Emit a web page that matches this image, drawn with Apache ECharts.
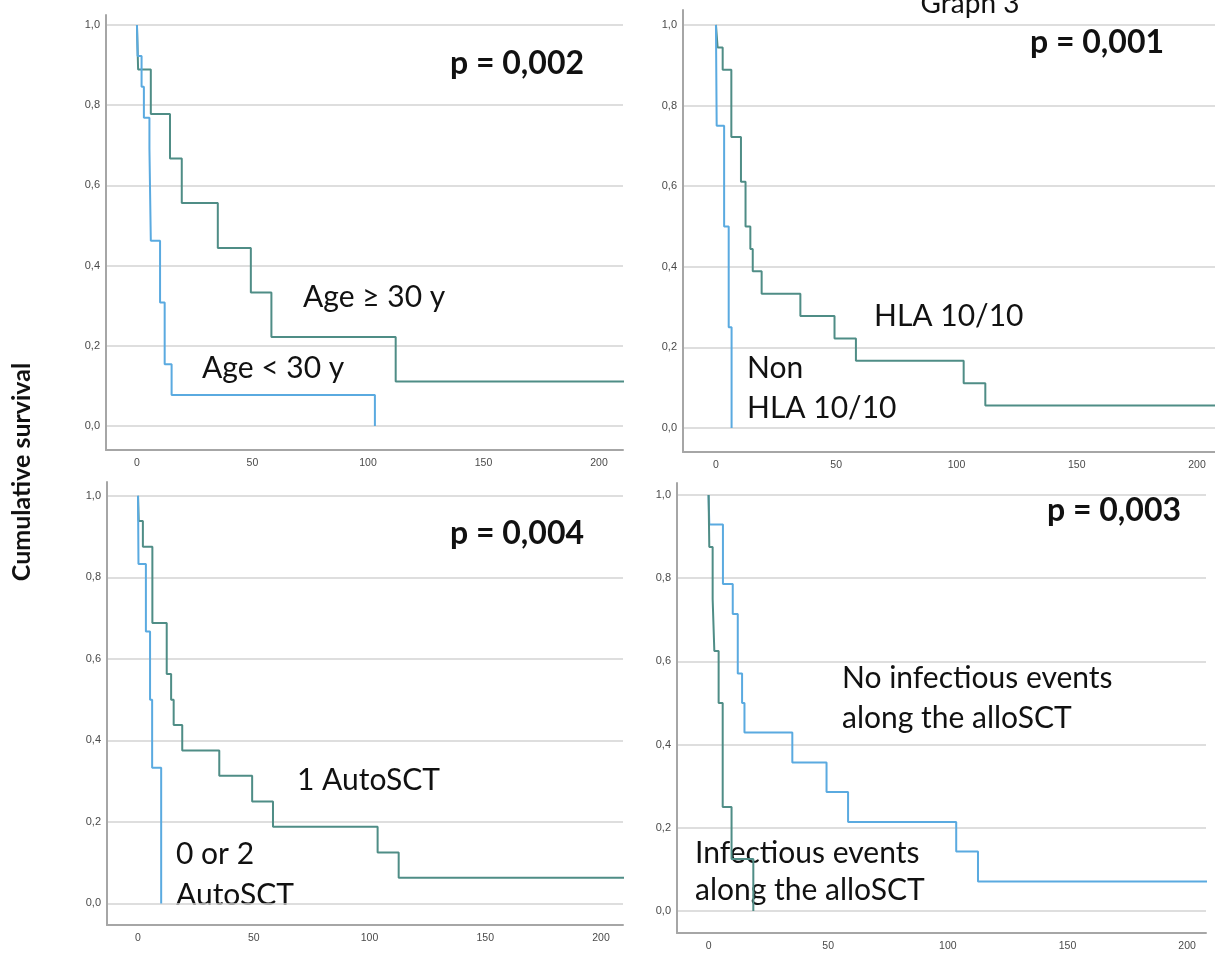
<!DOCTYPE html>
<html><head><meta charset="utf-8">
<script src="https://cdn.jsdelivr.net/npm/echarts@6/dist/echarts.min.js"></script>
<style>html,body{margin:0;padding:0;background:#fff}#c{width:1215px;height:954px}</style>
</head><body><div id="c"></div>
<script>
// tick labels
const yTicks = [0, 0.2, 0.4, 0.6, 0.8, 1.0];
const xTicks = [0, 50, 100, 150, 200];

// Panel 1: age
const ageOldT = [0, 0.5, 6, 14.3, 19.4, 35, 49.3, 58.2, 112, 230];
const ageOldS = [1, 0.889, 0.778, 0.667, 0.556, 0.444, 0.333, 0.222, 0.111, 0.111];
const ageYoungT = [0, 0.3, 2, 3, 5.4, 6, 10, 12, 15, 103];
const ageYoungS = [1, 0.923, 0.846, 0.769, 0.692, 0.462, 0.308, 0.154, 0.077, 0];

// Panel 2: HLA
const hlaT = [0, 0.7, 2.8, 6.4, 10.4, 12.3, 14.3, 15.3, 19, 35.1, 49.3, 58.2, 103, 112, 230];
const hlaS = [1, 0.944, 0.889, 0.722, 0.611, 0.5, 0.444, 0.389, 0.333, 0.278, 0.222, 0.167, 0.111, 0.056, 0.056];
const nonHlaT = [0, 0.3, 3.4, 5.3, 6.5];
const nonHlaS = [1, 0.75, 0.5, 0.25, 0];

// Panel 3: AutoSCT
const oneAutoT = [0, 0.3, 2.1, 6.2, 12.4, 14.3, 15.4, 19.1, 35.1, 49.3, 58.3, 103.5, 112.6, 230];
const oneAutoS = [1, 0.938, 0.875, 0.688, 0.563, 0.5, 0.438, 0.375, 0.313, 0.25, 0.188, 0.125, 0.063, 0.063];
const zeroTwoT = [0, 0.2, 3.4, 5.2, 6.1, 10];
const zeroTwoS = [1, 0.833, 0.667, 0.5, 0.333, 0];

// Panel 4: infections
const noInfT = [0, 0.3, 6, 10.1, 12.2, 14, 15, 35, 49.3, 58.3, 103.5, 112.6, 230];
const noInfS = [1, 0.929, 0.786, 0.714, 0.571, 0.5, 0.429, 0.357, 0.286, 0.214, 0.143, 0.071, 0.071];
const infT = [0, 0.3, 1.7, 2.4, 4.2, 5.9, 9.6, 18.7];
const infS = [1, 0.875, 0.75, 0.625, 0.5, 0.25, 0.125, 0];

const GREEN = '#4f8d86', BLUE = '#5aaae0';
const AXIS = '#a6a6a6', GRIDC = '#d3d3d3';

const panels = [
  {grid: {left: 106, top: 15, width: 517, height: 435}, x: [-13.4, 210.4], y: [-0.06, 1.025],
   lines: [[ageOldT, ageOldS, GREEN], [ageYoungT, ageYoungS, BLUE]]},
  {grid: {left: 683, top: 10, width: 532, height: 442}, x: [-13.7, 207.5], y: [-0.0596, 1.037],
   lines: [[hlaT, hlaS, GREEN], [nonHlaT, nonHlaS, BLUE]]},
  {grid: {left: 107, top: 482, width: 516, height: 443}, x: [-13.4, 209.5], y: [-0.053, 1.034],
   lines: [[oneAutoT, oneAutoS, GREEN], [zeroTwoT, zeroTwoS, BLUE]]},
  {grid: {left: 677, top: 483, width: 529, height: 450}, x: [-13.2, 207.9], y: [-0.053, 1.029],
   lines: [[noInfT, noInfS, BLUE], [infT, infS, GREEN]]}
];

const grids = [], xAxes = [], yAxes = [], series = [];
panels.forEach((p, i) => {
  grids.push(Object.assign({containLabel: false}, p.grid));
  xAxes.push({
    type: 'value', gridIndex: i, min: p.x[0], max: p.x[1],
    axisLine: {show: true, onZero: false, lineStyle: {color: AXIS, width: 2}},
    axisTick: {show: false},
    axisLabel: {customValues: xTicks, color: '#4a4a4a', fontSize: 10.5, margin: 8, fontFamily: 'Liberation Sans'},
    splitLine: {show: false}
  });
  yAxes.push({
    type: 'value', gridIndex: i, min: p.y[0], max: p.y[1],
    axisLine: {show: true, onZero: false, lineStyle: {color: AXIS, width: 2}},
    axisTick: {show: false, customValues: yTicks},
    axisLabel: {customValues: yTicks, color: '#4a4a4a', fontSize: 11, margin: 6, fontFamily: 'Liberation Sans',
      formatter: v => v.toFixed(1).replace('.', ',')},
    splitLine: {show: true, lineStyle: {color: GRIDC, width: 1.6}}
  });
  p.lines.forEach(([t, s, c]) => {
    series.push({
      type: 'line', step: 'end', xAxisIndex: i, yAxisIndex: i, symbol: 'none', showSymbol: false,
      clip: true, lineStyle: {color: c, width: 2}, itemStyle: {color: c},
      data: t.map((v, k) => [v, s[k]])
    });
  });
});

const FONT = 'Lato, "Open Sans", sans-serif';
function txt(x, y, text, bold) {
  return {type: 'text', x: x, y: y, style: {text: text, fill: '#111',
    font: (bold ? 'bold 32px ' : '30px ') + FONT, verticalAlign: 'middle', align: 'left'}};
}
const graphics = [
  txt(450, 64, 'p = 0,002', true),
  txt(303, 297, 'Age \u2265 30 y', false),
  txt(202, 368, 'Age < 30 y', false),
  txt(1030, 43, 'p = 0,001', true),
  txt(874, 316, 'HLA 10/10', false),
  txt(747, 368, 'Non', false),
  txt(747, 408, 'HLA 10/10', false),
  txt(450, 534, 'p = 0,004', true),
  txt(297, 780, '1 AutoSCT', false),
  txt(176, 854, '0 or 2', false),
  txt(176, 895, 'AutoSCT', false),
  txt(1047, 511, 'p = 0,003', true),
  txt(842, 678, 'No infectious events', false),
  txt(842, 718, 'along the alloSCT', false),
  txt(695, 853, 'Infectious events', false),
  txt(695, 890, 'along the alloSCT', false),
  {type: 'text', x: 970, y: 4, style: {text: 'Graph 3', fill: '#111', font: '28px ' + FONT,
    align: 'center', verticalAlign: 'middle'}},
  {type: 'text', x: 22, y: 472, rotation: Math.PI / 2, style: {text: 'Cumulative survival', fill: '#111',
    font: 'bold 25px ' + FONT, align: 'center', verticalAlign: 'middle'}}
];

const chart = echarts.init(document.getElementById('c'), null, {renderer: 'canvas'});
chart.setOption({
  animation: false,
  backgroundColor: '#fff',
  grid: grids, xAxis: xAxes, yAxis: yAxes, series: series,
  graphic: graphics
});
</script></body></html>
